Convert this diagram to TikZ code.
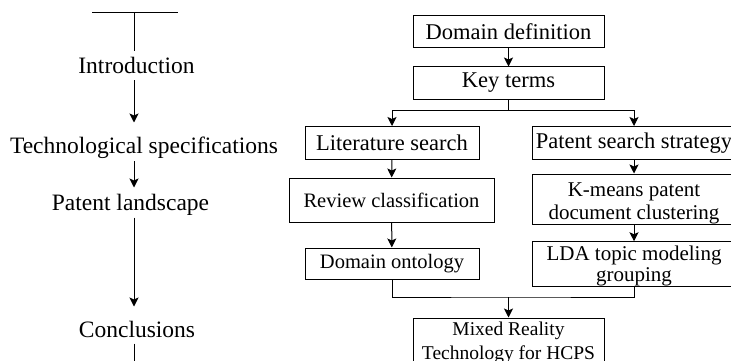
\documentclass[tikz,border=0pt]{standalone}
\usepackage{fontspec}
\setmainfont{Liberation Serif}
\usetikzlibrary{arrows.meta}
\begin{document}
\begin{tikzpicture}[x=1pt,y=-1pt,
  line width=1pt,
  arr/.style={-{Stealth[length=9pt,width=9pt,inset=2pt]}},
  phase/.style={inner sep=0pt,text height=17pt,text depth=6pt,
    font=\fontsize{23.5}{27}\selectfont},
  stepbox/.style={draw,inner sep=0pt,align=center},
  fbig/.style={font=\fontsize{22.5}{26}\selectfont},
  fmid/.style={font=\fontsize{21}{22.6}\selectfont},
  flda/.style={font=\fontsize{21}{21}\selectfont},
  fsmall/.style={font=\fontsize{20.5}{24}\selectfont},
  fmr/.style={font=\fontsize{19.5}{24}\selectfont}]
\useasboundingbox (0,0) rectangle (731,361);
\clip (0,0) rectangle (731,361);

% ---- left column: outline of the paper ----
\coordinate (tl) at (92,13);
\coordinate (tr) at (178,13);
\coordinate (tm) at (134,13);
\node[phase,anchor=base] (intro) at (136.5,74) {Introduction};
\node[phase,anchor=base] (tech)  at (144,153) {Technological specifications};
\node[phase,anchor=base] (land)  at (130.5,210) {Patent landscape};
\node[phase,anchor=base] (concl) at (137,337) {Conclusions};
\coordinate (tail) at (134,372);

\draw (tl) -- (tr);
\draw[shorten >=5pt] (tm) -- (intro.north -| tm);
\draw[arr,shorten >=13pt] (intro.south -| tm) -- (tech.north -| tm);
\draw[arr,shorten <=1.5pt,shorten >=5pt] (tech.south -| tm) -- (land.north -| tm);
\draw[arr,shorten <=1pt,shorten >=13pt] (land.south -| tm) -- (concl.north -| tm);
\draw[arr] (concl.south -| tm) -- (tail);

% ---- right column: methodology ----
\node[stepbox,fbig,minimum width=191pt,minimum height=32pt] (dd) at (508.5,32) {Domain definition};
\node[stepbox,fbig,minimum width=191pt,minimum height=32pt] (kt) at (508.5,83) {Key terms};
\node[stepbox,fbig,minimum width=174pt,minimum height=33pt] (ls) at (392,143) {Literature search};
\node[stepbox,fbig,minimum width=204pt,minimum height=33pt] (ps) at (634,143) {Patent search strategy};
\node[stepbox,fsmall,minimum width=205pt,minimum height=44pt] (rc) at (391.5,200) {Review classification};
\node[stepbox,fsmall,minimum width=174pt,minimum height=31pt] (do) at (392,263.5) {Domain ontology};
\node[stepbox,fmid,minimum width=204pt,minimum height=50pt] (km) at (634,199) {\rule{0pt}{22pt}K-means patent\\document clustering};
\node[stepbox,flda,minimum width=204pt,minimum height=42.5pt] (lda) at (634,264) {\rule{0pt}{19pt}LDA topic modeling\\grouping};
\node[stepbox,fmr,minimum width=191pt,minimum height=50pt] (mr) at (508.5,343) {Mixed Reality\\Technology for HCPS};

\coordinate (split) at (508.5,110);
\coordinate (merge) at (508.5,297);

\draw[arr] (dd) -- (kt);
\draw (kt.south) -- (split);
\draw[arr] (split) -| (ls.north);
\draw[arr] (split) -| (ps.north);
\draw[arr] (ls) -- (rc);
\draw[arr] (rc) -- (do);
\draw[arr] (ps) -- (km);
\draw[arr] (km) -- (lda);
\draw (do.south) |- (merge) -| (lda.south);
\draw[arr] (merge) -- (mr.north);
\end{tikzpicture}
\end{document}
